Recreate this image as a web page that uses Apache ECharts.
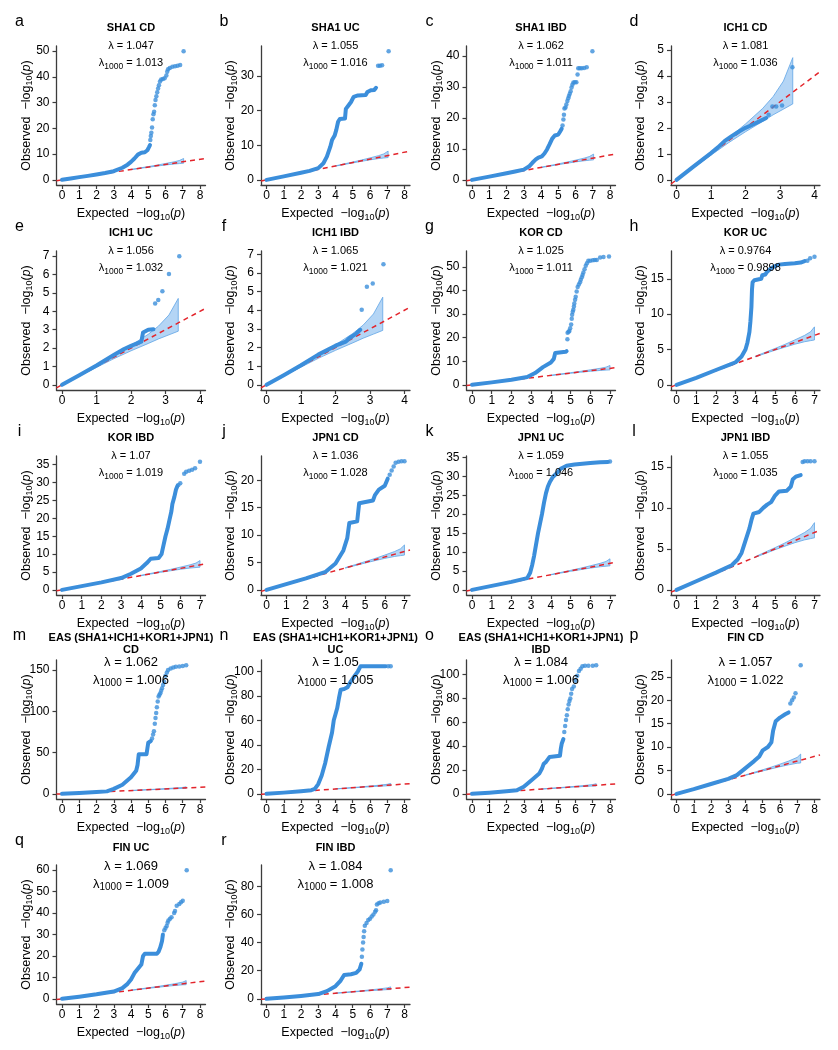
<!DOCTYPE html>
<html><head><meta charset="utf-8">
<script src="https://cdn.jsdelivr.net/npm/echarts@6/dist/echarts.min.js"></script>
<style>html,body{margin:0;padding:0;background:#fff}#c{width:838px;height:1050px}</style>
</head><body><div id="c"></div>
<script>
// ---------------- DATA ----------------
const panelLetters = ['a','b','c','d','e','f','g','h','i','j','k','l','m','n','o','p','q','r'];
const panelTitles = ['SHA1 CD','SHA1 UC','SHA1 IBD','ICH1 CD','ICH1 UC','ICH1 IBD','KOR CD','KOR UC','KOR IBD',
  'JPN1 CD','JPN1 UC','JPN1 IBD','EAS (SHA1+ICH1+KOR1+JPN1)\nCD','EAS (SHA1+ICH1+KOR1+JPN1)\nUC','EAS (SHA1+ICH1+KOR1+JPN1)\nIBD',
  'FIN CD','FIN UC','FIN IBD'];
const lambdaVals = ['1.047','1.055','1.062','1.081','1.056','1.065','1.025','0.9764','1.07','1.036','1.059','1.055','1.062','1.05','1.084','1.057','1.069','1.084'];
const lambda1000Vals = ['1.013','1.016','1.011','1.036','1.032','1.021','1.011','0.9898','1.019','1.028','1.046','1.035','1.006','1.005','1.006','1.022','1.009','1.008'];
const xMaxes = [8,8,8,4, 4,4,7,7, 7,7,7,7, 8,8,8,8, 8,8];
const yMaxes = [50,37.2,41.5,4.95, 7.0,6.9,54.5,18.2, 36,23.5,34,15.7, 156,105,108,27.5, 60,91.5];
const xTicks8 = [0,1,2,3,4,5,6,7,8];
const xTicks7 = [0,1,2,3,4,5,6,7];
const xTicks4 = [0,1,2,3,4];
const yTicks = [
  [0,10,20,30,40,50],[0,10,20,30],[0,10,20,30,40],[0,1,2,3,4,5],
  [0,1,2,3,4,5,6,7],[0,1,2,3,4,5,6,7],[0,10,20,30,40,50],[0,5,10,15],
  [0,5,10,15,20,25,30,35],[0,5,10,15,20],[0,5,10,15,20,25,30,35],[0,5,10,15],
  [0,50,100,150],[0,20,40,60,80,100],[0,20,40,60,80,100],[0,5,10,15,20,25],
  [0,10,20,30,40,50,60],[0,20,40,60,80]
];

// confidence bands: [expected, lower, upper]
const sha1Band = [[4,3.97,4.05],[5,4.9,5.15],[5.5,5.35,5.72],[6,5.78,6.35],[6.5,6.15,7.0],[6.8,6.32,7.5],[7.05,6.45,8.3]];
const ichBand  = [[0,0,0],[0.5,0.47,0.53],[1,0.95,1.06],[1.5,1.42,1.6],[2,1.85,2.15],[2.5,2.25,2.75],[2.8,2.5,3.2],[3.1,2.72,3.8],[3.37,2.92,4.7]];
const korBand  = [[4,3.97,4.05],[5,4.9,5.15],[5.5,5.33,5.72],[6,5.75,6.35],[6.5,6.1,7.0],[6.8,6.25,7.5],[7.0,6.35,8.2]];
const jpnBand  = [[4,3.97,4.05],[5,4.9,5.15],[5.5,5.33,5.72],[6,5.75,6.35],[6.5,6.1,7.0],[6.8,6.25,7.5],[7.0,6.35,8.2]];
const easBand  = [[4,3.97,4.05],[5,4.9,5.15],[5.5,5.35,5.72],[6,5.8,6.35],[6.5,6.2,7.0],[7.0,6.55,7.8],[7.2,6.6,8.5]];
const finBand  = [[4,3.97,4.05],[5,4.9,5.15],[5.5,5.35,5.72],[6,5.8,6.35],[6.5,6.2,7.0],[7.0,6.55,7.8],[7.2,6.6,8.5]];

// observed vs expected: dense part (line) and sparse tail (points)
const sha1CdLine = [[0,0],[0.5,0.5],[1,1.05],[1.5,1.55],[2,2.1],[2.5,2.65],[3,3.35],[3.5,4.7],[3.8,5.9],[4,7],[4.2,8.3],[4.4,9.8],[4.6,10.5],[4.8,10.7],[4.95,11.5],[5.05,12.8],[5.1,13.5]];
const sha1CdPts = [[5.12,15.5],[5.15,17],[5.18,18.3],[5.22,20.3],[5.26,23.5],[5.3,25.5],[5.34,26.5],[5.38,29],[5.42,31],[5.47,32.5],[5.52,34],[5.57,35.5],[5.62,36.8],[5.68,38.2],[5.75,39],[5.85,39.2],[5.95,39.5],[6.05,40.5],[6.1,42],[6.15,43],[6.25,43.5],[6.4,43.9],[6.55,44.1],[6.7,44.3],[6.85,44.6],[7.05,50]];
const sha1UcLine = [[0,0],[1,1],[2,2.05],[2.5,2.6],[3,3.4],[3.3,4.8],[3.5,6.7],[3.7,9.6],[3.8,11.5],[3.95,12.8],[4.05,14.5],[4.15,16.8],[4.25,17.6],[4.55,17.7],[4.6,20.5],[4.75,21.5],[4.9,22.5],[5.05,24],[5.3,24.4],[5.75,24.5],[5.85,25.4],[6.05,25.9],[6.25,26],[6.35,26.6]];
const sha1UcPts = [[6.47,33],[6.58,33],[6.7,33.1],[7.08,37.2]];
const sha1IbdLine = [[0,0],[1,1.05],[2,2.15],[2.5,2.7],[3,3.3],[3.3,4.3],[3.5,5.5],[3.7,6.6],[3.85,7.2],[4.05,7.6],[4.2,8.5],[4.35,9.8],[4.5,11.5],[4.65,13.3],[4.8,14.3],[5.0,14.6],[5.1,15.5],[5.2,16.5]];
const sha1IbdPts = [[5.25,17.5],[5.3,19.5],[5.33,21],[5.36,23],[5.42,23.3],[5.47,24.3],[5.53,25.4],[5.58,26.3],[5.62,27],[5.67,27.8],[5.72,28.6],[5.77,29.8],[5.82,30.7],[5.88,31.4],[5.96,31.5],[6.05,31.5],[6.12,34],[6.16,36],[6.25,36],[6.36,36],[6.5,36.1],[6.65,36.3],[6.98,41.5]];
const ich1CdLine = [[0,0],[0.5,0.52],[1,1.03],[1.2,1.25],[1.4,1.5],[1.6,1.68],[1.8,1.85],[2.0,2.0],[2.2,2.12],[2.4,2.25],[2.6,2.38]];
const ich1CdPts = [[2.67,2.5],[2.78,2.82],[2.89,2.82],[3.06,2.86],[3.36,4.33]];
const ich1UcLine = [[0,0],[0.5,0.52],[1,1.05],[1.5,1.62],[1.8,1.95],[2.0,2.12],[2.3,2.35],[2.35,2.85],[2.5,3.0],[2.65,3.02]];
const ich1UcPts = [[2.7,4.43],[2.79,4.61],[2.91,5.09],[3.1,6.03],[3.4,7.0]];
const ich1IbdLine = [[0,0],[0.5,0.52],[1,1.05],[1.5,1.62],[2,2.1],[2.3,2.32],[2.4,2.5],[2.6,2.75],[2.72,2.95]];
const ich1IbdPts = [[2.76,4.02],[2.91,5.26],[3.08,5.44],[3.39,6.46]];
const korCdLine = [[0,0],[1,1.05],[2,2.2],[2.8,3.3],[3.2,5],[3.6,7.5],[4.0,9.5],[4.15,11],[4.22,13.5],[4.3,14],[4.75,14],[4.8,14.3]];
const korCdPts = [[4.84,19.3],[4.85,22.1],[4.9,22.5],[4.94,22.8],[4.98,24],[5.03,25.6],[5.06,28],[5.08,29.7],[5.11,31],[5.14,31.8],[5.17,33.2],[5.19,34.5],[5.23,36],[5.26,37.3],[5.31,39.5],[5.36,41.4],[5.42,42.5],[5.48,43.5],[5.52,44.5],[5.57,45.6],[5.61,46.5],[5.65,47.6],[5.71,49],[5.77,50.4],[5.83,51.5],[5.9,52.5],[6.0,52.6],[6.13,52.8],[6.23,52.9],[6.33,52.9],[6.5,53.9],[6.67,54.1],[6.95,54.4]];
const korUcLine = [[0,0],[1,1],[2,2.1],[2.7,2.85],[3.0,3.2],[3.3,4],[3.5,5],[3.6,6],[3.7,7.5],[3.75,9],[3.8,11],[3.83,13.5],[3.86,14.5],[3.95,14.8],[4.3,15],[4.35,15.5],[4.5,15.6],[4.6,16],[4.8,16.5],[5,16.8],[5.2,17],[5.5,17.1],[6.0,17.2],[6.3,17.3],[6.5,17.5]];
const korUcPts = [[6.64,17.55],[6.78,17.9],[7.0,18.1]];
const korIbdLine = [[0,0],[1,1.05],[2,2.1],[3,3.3],[3.5,4.5],[4,6],[4.3,7.5],[4.5,8.7],[4.9,8.9],[5.05,10],[5.15,12.5],[5.25,15],[5.35,17],[5.45,19.5],[5.55,22],[5.6,24],[5.7,26],[5.78,28],[5.85,29]];
const korIbdPts = [[5.9,29.3],[6.0,29.8],[6.2,32.5],[6.3,33],[6.45,33.3],[6.6,33.6],[6.75,34],[7.0,35.8]];
const jpnCdLine = [[0,0],[1,1.05],[2,2.1],[3,3.3],[3.5,4.8],[3.9,7.2],[4.1,9.5],[4.2,12.2],[4.6,12.5],[4.7,15.8],[5.4,16.3],[5.5,17.3],[5.7,18.3],[6.0,19],[6.15,20.3]];
const jpnCdPts = [[6.25,21],[6.35,21.8],[6.45,22.5],[6.55,23.2],[6.7,23.4],[6.85,23.5],[7.0,23.5]];
const jpnUcLine = [[0,0],[1,1.05],[2,2.1],[2.8,3.1],[2.95,4.5],[3.05,6.5],[3.15,9],[3.25,12],[3.35,15],[3.45,17.5],[3.55,20],[3.65,23],[3.75,25.5],[3.85,27.3],[3.95,28.5],[4.1,29.8],[4.3,30.8],[4.5,32],[4.8,32.8],[5.2,33.1],[5.6,33.3],[6.0,33.5],[6.5,33.7],[6.9,33.8]];
const jpnUcPts = [[7.0,33.9]];
const jpnIbdLine = [[0,0],[1,1.05],[2,2.1],[2.8,3],[3.1,3.7],[3.3,4.5],[3.5,6],[3.7,7.5],[3.8,8.5],[3.9,9.3],[4.2,9.5],[4.4,10],[4.6,10.4],[4.8,10.7],[5.0,11.5],[5.2,12],[5.6,12.1],[5.8,12.6],[5.9,13.5],[6.05,13.8],[6.3,14]];
const jpnIbdPts = [[6.4,15.6],[6.5,15.7],[6.65,15.7],[6.8,15.7],[7.0,15.7]];
const easCdLine = [[0,0],[1,1],[2,2.2],[2.6,3],[3.0,6],[3.5,11],[4.0,20],[4.3,28],[4.38,35],[4.45,48],[4.9,48],[4.95,55],[5.0,62],[5.15,64]];
const easCdPts = [[5.22,67],[5.28,72],[5.33,76],[5.38,85],[5.42,92],[5.46,98],[5.5,105],[5.55,112],[5.6,118],[5.65,120],[5.7,122],[5.75,125],[5.8,128],[5.86,132],[5.92,136],[6.0,143],[6.08,147],[6.15,150],[6.3,152],[6.45,153],[6.6,154],[6.8,154.5],[7.0,155],[7.2,156]];
const easUcLine = [[0,0],[1,1],[2,2.2],[2.6,3],[2.8,4],[3.0,8],[3.2,15],[3.4,25],[3.6,38],[3.8,50],[3.9,60],[4.0,65],[4.1,70],[4.2,78],[4.3,85],[4.5,85.5],[4.7,87],[4.9,92],[5.1,96],[5.3,100],[5.45,104],[6.0,104],[6.5,104],[6.9,104]];
const easUcPts = [[7.05,104],[7.2,104]];
const easIbdLine = [[0,0],[1,1],[2,2.2],[2.6,3],[3.0,6],[3.5,12],[3.9,17],[4.05,21],[4.15,25],[4.3,27],[4.5,31],[4.6,32],[5.1,32],[5.15,38],[5.2,42],[5.3,46]];
const easIbdPts = [[5.35,52],[5.4,57],[5.45,62],[5.5,66],[5.55,71],[5.6,75],[5.65,78],[5.7,80],[5.75,84],[5.8,88],[5.9,90],[6.0,95],[6.1,99],[6.2,103],[6.3,105],[6.4,107],[6.55,107.5],[6.75,107.5],[7.0,107.5],[7.2,108]];
const finCdLine = [[0,0],[1,1],[2,2.1],[3,3.2],[3.5,4],[4.0,5.5],[4.5,7],[4.8,8],[5.0,9.3],[5.3,10],[5.5,11],[5.6,13.5],[5.75,15.5],[6.0,16.3],[6.3,17],[6.5,17.4]];
const finCdPts = [[6.6,19.3],[6.7,20],[6.8,20.6],[6.9,21.5],[7.2,27.5]];
const finUcLine = [[0,0],[1,1],[2,2.1],[3,3.4],[3.5,5],[3.8,7],[4.0,9],[4.2,12],[4.4,14],[4.6,16],[4.7,20],[4.8,21],[5.5,21],[5.6,22],[5.7,24],[5.8,27],[5.85,30]];
const finUcPts = [[5.93,32],[6.0,33],[6.07,34],[6.12,35.5],[6.17,36.5],[6.26,37.3],[6.35,38],[6.5,40],[6.55,41],[6.65,43.4],[6.8,44.2],[6.9,45],[7.0,45.7],[7.23,60]];
const finIbdLine = [[0,0],[1,1],[2,2.1],[3,3.4],[3.5,5.5],[4.0,9],[4.3,13],[4.5,17],[4.9,17.5],[5.2,18.5],[5.4,21],[5.5,25]];
const finIbdPts = [[5.53,30],[5.56,35],[5.6,40],[5.63,44],[5.66,48],[5.7,52],[5.8,54],[5.9,56],[6.0,57],[6.1,58.5],[6.2,60],[6.3,62],[6.35,63],[6.4,67],[6.5,68],[6.6,68.5],[6.8,69],[7.0,69.5],[7.2,91.5]];

const panelLines = [sha1CdLine,sha1UcLine,sha1IbdLine,ich1CdLine,ich1UcLine,ich1IbdLine,korCdLine,korUcLine,korIbdLine,jpnCdLine,jpnUcLine,jpnIbdLine,easCdLine,easUcLine,easIbdLine,finCdLine,finUcLine,finIbdLine];
const panelPts = [sha1CdPts,sha1UcPts,sha1IbdPts,ich1CdPts,ich1UcPts,ich1IbdPts,korCdPts,korUcPts,korIbdPts,jpnCdPts,jpnUcPts,jpnIbdPts,easCdPts,easUcPts,easIbdPts,finCdPts,finUcPts,finIbdPts];
const panelBands = [sha1Band,sha1Band,sha1Band,ichBand,ichBand,ichBand,korBand,korBand,korBand,jpnBand,jpnBand,jpnBand,easBand,easBand,easBand,finBand,finBand,finBand];

// ---------------- LAYOUT / STYLE ----------------
const FONT = '"Liberation Sans", Arial, Helvetica, sans-serif';
const BLUE = '#3b8edb';
const colLefts = [56.5, 261, 466.5, 671];
const rowTops = [46, 251, 456, 660, 865];
const GW = 149, GH = 139;

const grids = [], xAxes = [], yAxes = [], series = [], graphics = [];
const nameRich = {
  s: {fontSize: 9, fontFamily: FONT, color: '#000', verticalAlign: 'bottom', lineHeight: 16},
  i: {fontSize: 12.5, fontFamily: FONT, color: '#000', fontStyle: 'italic', lineHeight: 16},
  n: {fontSize: 12.5, fontFamily: FONT, color: '#000', lineHeight: 16}
};
const axisNameText = (w) => '{n|' + w + '  \u2212log}{s|10}{n|(}{i|p}{n|)}';

panelLetters.forEach((letter, i) => {
  const col = i % 4, row = Math.floor(i / 4);
  const left = colLefts[col], top = rowTops[row];
  const xm = xMaxes[i], ym = yMaxes[i];
  const xlo = -0.04 * xm, xhi = 1.04 * xm, ylo = -0.04 * ym, yhi = 1.04 * ym;
  const xt = xm === 8 ? xTicks8 : (xm === 7 ? xTicks7 : xTicks4);
  grids.push({left: left, top: top, width: GW, height: GH});
  xAxes.push({
    gridIndex: i, type: 'value', min: xlo, max: xhi,
    axisLine: {show: true, onZero: false, lineStyle: {color: '#3c3c3c', width: 1.3}},
    axisTick: {show: true, length: 4, customValues: xt, lineStyle: {color: '#3c3c3c', width: 1.2}},
    axisLabel: {customValues: xt, margin: 5, fontSize: 12, color: '#000', fontFamily: FONT},
    splitLine: {show: false},
    name: axisNameText('Expected'), nameLocation: 'middle', nameGap: 21, nameMoveOverlap: false,
    nameTextStyle: {rich: nameRich}
  });
  yAxes.push({
    gridIndex: i, type: 'value', min: ylo, max: yhi,
    axisLine: {show: true, onZero: false, lineStyle: {color: '#3c3c3c', width: 1.3}},
    axisTick: {show: true, length: 4, customValues: yTicks[i], lineStyle: {color: '#3c3c3c', width: 1.2}},
    axisLabel: {customValues: yTicks[i], margin: 7, fontSize: 12, color: '#000', fontFamily: FONT},
    splitLine: {show: false},
    name: axisNameText('Observed'), nameLocation: 'middle', nameGap: 22, nameMoveOverlap: false,
    nameTextStyle: {rich: nameRich}
  });
  const band = panelBands[i];
  series.push({
    type: 'custom', xAxisIndex: i, yAxisIndex: i, data: [0], silent: true, z: 1, animation: false,
    renderItem: (params, api) => {
      const up = band.map(b => api.coord([b[0], b[2]]));
      const lo = band.slice().reverse().map(b => api.coord([b[0], b[1]]));
      return {type: 'polygon', shape: {points: up.concat(lo)},
        style: {fill: 'rgba(105,172,236,0.5)', stroke: '#5fa4e6', lineWidth: 0.8}};
    }
  });
  series.push({
    type: 'line', xAxisIndex: i, yAxisIndex: i, data: [[xlo, xlo], [xhi, xhi]],
    symbol: 'none', silent: true, z: 2, animation: false,
    lineStyle: {color: '#e3242b', width: 1.5, type: [5, 4]}
  });
  series.push({
    type: 'line', xAxisIndex: i, yAxisIndex: i, data: panelLines[i],
    symbol: 'none', silent: true, z: 3, animation: false,
    lineStyle: {color: BLUE, width: 4, cap: 'round', join: 'round'}
  });
  series.push({
    type: 'scatter', xAxisIndex: i, yAxisIndex: i, data: panelPts[i],
    symbolSize: 4.5, silent: true, z: 4, animation: false,
    itemStyle: {color: BLUE}
  });

  // text: panel letter, title, lambda lines
  const cx = left + GW / 2;
  graphics.push({type: 'text', x: left - 37, y: top - 24,
    style: {text: letter, font: '16px ' + FONT, fill: '#000', textAlign: 'center', textVerticalAlign: 'middle', align: 'center', verticalAlign: 'middle'}});
  const big = row >= 3;
  const lf = big ? 13 : 11;
  let tY, l1Y, l2Y;
  if (row === 3) { tY = top - 22; l1Y = top + 2; l2Y = top + 20; }
  else if (row === 4) { tY = top - 17; l1Y = top + 1; l2Y = top + 19; }
  else { tY = top - 18; l1Y = top; l2Y = top + 17; }
  const tl = panelTitles[i].split('\n');
  tl.forEach((t, k) => {
    graphics.push({type: 'text', x: cx, y: tY + k * 12,
      style: {text: t, font: 'bold 11px ' + FONT, fill: '#000', textAlign: 'center', textVerticalAlign: 'middle', align: 'center', verticalAlign: 'middle'}});
  });
  graphics.push({type: 'text', x: cx, y: l1Y, z: 100,
    style: {text: '\u03bb = ' + lambdaVals[i], font: lf + 'px ' + FONT, fill: '#000', textAlign: 'center', textVerticalAlign: 'middle', align: 'center', verticalAlign: 'middle'}});
  graphics.push({type: 'text', x: cx, y: l2Y, z: 100,
    style: {text: '{a|\u03bb}{s|1000}{a| = ' + lambda1000Vals[i] + '}',
      textAlign: 'center', textVerticalAlign: 'middle', align: 'center', verticalAlign: 'middle',
      rich: {
        a: {fontSize: lf, fontFamily: FONT, fill: '#000', color: '#000', lineHeight: 16},
        s: {fontSize: big ? 10 : 8.5, fontFamily: FONT, fill: '#000', color: '#000', lineHeight: 16, verticalAlign: 'bottom'}
      }}});
});

const chart = echarts.init(document.getElementById('c'), null, {renderer: 'canvas'});
chart.setOption({
  animation: false,
  backgroundColor: '#fff',
  grid: grids, xAxis: xAxes, yAxis: yAxes, series: series,
  graphic: {elements: graphics}
});
</script></body></html>
